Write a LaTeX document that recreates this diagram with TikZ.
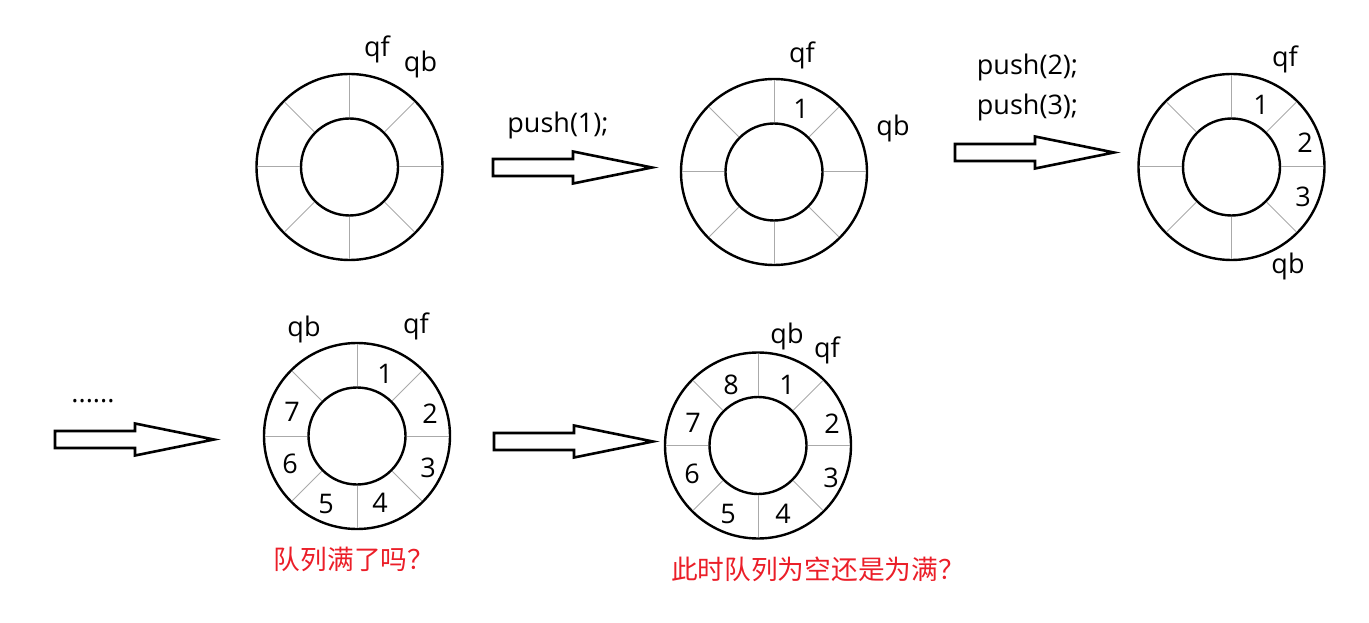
\documentclass[tikz,border=0pt]{standalone}
\usepackage{fontspec}
\setmainfont{Open Sans}
\newfontfamily\cjk{Noto Sans CJK SC}
\definecolor{qred}{RGB}{235,30,40}
\definecolor{spokegray}{RGB}{170,170,170}
\tikzset{
  ringout/.style={circle, draw, line width=2.4pt, minimum size=186pt, inner sep=0pt, outer sep=0pt},
  ringin/.style={circle, draw, line width=2.4pt, minimum size=97pt, inner sep=0pt, outer sep=0pt},
  spoke/.style={draw=spokegray, line width=1pt, shorten <=1.2pt, shorten >=1.2pt},
  lbl/.style={anchor=base, inner sep=0pt, font=\fontsize{27}{32}\selectfont},
  cnlbl/.style={anchor=base, inner sep=0pt, text=qred, font=\cjk\fontsize{26.7}{30}\selectfont},
  blockarrow/.style={draw, line width=2.6pt, fill=white, line join=miter},
  hollow/.pic={\draw[blockarrow] (0,-8.5) -- (80,-8.5) -- (80,-16) -- (159,0) -- (80,16) -- (80,8.5) -- (0,8.5) -- cycle;}
}
\begin{document}
\begin{tikzpicture}[x=1pt,y=-1pt]
\useasboundingbox (0,0) rectangle (1369,623);
% rings
\foreach \n/\x/\y in {ra/349.5/167, rb/774/172, rc/1231.5/167, rd/357/436, re/758/445.5} {
  \node[ringout] (\n o) at (\x,\y) {};
  \node[ringin] (\n i) at (\x,\y) {};
  \foreach \a in {0,45,...,315} \draw[spoke] (\n i.\a) -- (\n o.\a);
}
% arrows
\pic (arA) at (493,167.5) {hollow};
\pic (arB) at (955,152.5) {hollow};
\pic (arC) at (55,439.5) {hollow};
\pic (arD) at (494,441.5) {hollow};
% ring 1
\node[lbl] (aqf) at (377,57) {qf};
\node[lbl] (aqb) at (420.5,72) {qb};
\node[lbl] (push1) at (558,133) {push(1);};
% ring 2
\node[lbl] (bqf) at (802,63) {qf};
\node[lbl] (b1) at (801,119) {1};
\node[lbl] (bqb) at (893,136) {qb};
\node[lbl] (push2) at (1027.5,75) {push(2);};
\node[lbl] (push3) at (1027.5,115) {push(3);};
% ring 3
\node[lbl] (cqf) at (1285,66.7) {qf};
\node[lbl] (c1) at (1261,115) {1};
\node[lbl] (c2) at (1305,153) {2};
\node[lbl] (c3) at (1303,207) {3};
\node[lbl] (cqb) at (1288,273) {qb};
% dots
\node[lbl] (dots) at (93,402) {......};
% ring 4
\node[lbl] (dqb) at (304,336) {qb};
\node[lbl] (dqf) at (416,333) {qf};
\node[lbl] (d1) at (385,383) {1};
\node[lbl] (d2) at (430,423) {2};
\node[lbl] (d3) at (428,477) {3};
\node[lbl] (d4) at (380,512) {4};
\node[lbl] (d5) at (326,513) {5};
\node[lbl] (d6) at (290,473) {6};
\node[lbl] (d7) at (292,421) {7};
\node[cnlbl] (dq) at (354,569) {队列满了吗？};
% ring 5
\node[lbl] (eqb) at (787,343) {qb};
\node[lbl] (eqf) at (827,357) {qf};
\node[lbl] (e8) at (731,394) {8};
\node[lbl] (e1) at (787,394) {1};
\node[lbl] (e2) at (832,433) {2};
\node[lbl] (e3) at (831,487) {3};
\node[lbl] (e4) at (783,523) {4};
\node[lbl] (e5) at (728,523) {5};
\node[lbl] (e6) at (692,483) {6};
\node[lbl] (e7) at (693,432) {7};
\node[cnlbl] (eq) at (818,579) {此时队列为空还是为满？};
\end{tikzpicture}
\end{document}
